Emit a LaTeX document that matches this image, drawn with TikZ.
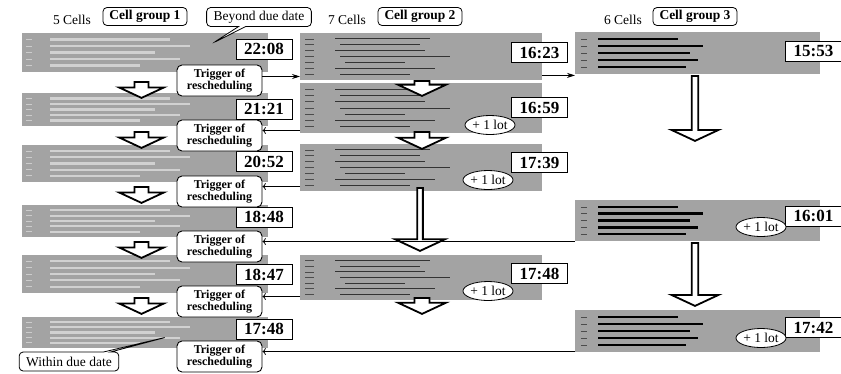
\documentclass[tikz,border=0pt]{standalone}
\usepackage{fontspec}
\setmainfont{Liberation Serif}
\usetikzlibrary{arrows.meta, shapes.geometric, shapes.arrows, shapes.callouts}

\tikzset{
  panel/.style={fill=black!36, inner sep=0, anchor=north west},
  timebox/.style={draw, fill=white, line width=0.9pt, minimum width=56, minimum height=20,
    inner sep=0, font=\fontsize{17}{17}\selectfont\bfseries},
  trigger/.style={draw, fill=white, rounded corners=5pt, line width=0.9pt, minimum width=85,
    minimum height=31, inner sep=0, align=center, font=\fontsize{12}{12.5}\selectfont\bfseries},
  groupbox/.style={draw, rounded corners=4pt, line width=0.8pt, minimum width=84,
    minimum height=18, inner sep=0, font=\fontsize{13.5}{14}\selectfont\bfseries},
  cellcount/.style={font=\fontsize{13.5}{14}\selectfont},
  lot/.style={ellipse, draw, fill=white, line width=0.8pt, minimum width=50, minimum height=19,
    inner sep=0, font=\fontsize{13.5}{13.5}\selectfont},
  note/.style={rectangle callout, draw, fill=white, rounded corners=4pt, line width=0.8pt,
    minimum height=19, inner xsep=7pt, inner ysep=0, font=\fontsize{13.5}{14}\selectfont},
  hollow/.style={single arrow, draw, fill=white, line width=1.8pt, shape border rotate=270,
    single arrow tip angle=130, inner sep=0, anchor=tail},
  link/.style={line width=0.8pt, -{Stealth[length=8pt, width=5pt]}}
}

\begin{document}
\begin{tikzpicture}[x=1pt, y=-1pt]
  \useasboundingbox (0,0) rectangle (841,373);

  % schedule screenshots
  \node[panel, minimum width=246, minimum height=39] (p11) at (22,33) {};
  \node[panel, minimum width=246, minimum height=33] (p12) at (22,93) {};
  \node[panel, minimum width=246, minimum height=37] (p13) at (22,145) {};
  \node[panel, minimum width=246, minimum height=32] (p14) at (22,205) {};
  \node[panel, minimum width=246, minimum height=38] (p15) at (22,255) {};
  \node[panel, minimum width=246, minimum height=31] (p16) at (22,317) {};

  \node[panel, minimum width=242, minimum height=47] (p21) at (300,33) {};
  \node[panel, minimum width=242, minimum height=50] (p22) at (300,83) {};
  \node[panel, minimum width=242, minimum height=47] (p23) at (300,144) {};
  \node[panel, minimum width=242, minimum height=45] (p25) at (300,255) {};

  \node[panel, minimum width=245, minimum height=42] (p31) at (575,32) {};
  \node[panel, minimum width=245, minimum height=41] (p34) at (575,200) {};
  \node[panel, minimum width=245, minimum height=42] (p36) at (575,310) {};

  % the rows inside the screenshots
  \foreach \t/\h in {33/39,93/33,145/37,205/32,255/38,317/31} {
    \foreach \k/\l in {1/120,2/140,3/105,4/130,5/90} {
      \draw[white, line width=2.2pt, opacity=0.5] (50,{\t+\h*\k/6}) -- ++(\l,0);
      \draw[white!80!black, line width=0.8pt] (26,{\t+\h*\k/6}) -- ++(6,0);
    }
  }
  \foreach \t/\h in {33/47,83/50,144/47,255/45} {
    \foreach \k/\a/\l in {1/335/95,2/340/80,3/335/90,4/340/110,5/345/60,6/335/100,7/340/70} {
      \draw[black!80, line width=0.9pt] (\a,{\t+\h*\k/8}) -- ++(\l,0);
      \draw[black!70, line width=0.6pt] (305,{\t+\h*\k/8}) -- ++(9,0);
    }
  }
  \foreach \t/\h in {32/42,200/41,310/42} {
    \foreach \k/\l in {1/80,2/105,3/92,4/100,5/88} {
      \draw[black, line width=2.6pt] (598,{\t+\h*\k/6}) -- ++(\l,0);
      \draw[black!70, line width=0.6pt] (581,{\t+\h*\k/6}) -- ++(6,0);
    }
  }

  % headings
  \node[cellcount] (n1) at (72,20) {5 Cells};
  \node[groupbox] (g1) at (145,16.5) {Cell group 1};
  \node[cellcount] (n2) at (347,20) {7 Cells};
  \node[groupbox] (g2) at (420,16.5) {Cell group 2};
  \node[cellcount] (n3) at (623,20) {6 Cells};
  \node[groupbox] (g3) at (695,16.5) {Cell group 3};

  \node[note, callout absolute pointer={(213,43)}] (late) at (259,17) {Beyond due date};
  \node[note, callout absolute pointer={(167,337)}] (ok) at (69,361.5) {Within due date};

  % moves between the schedules
  \foreach \y in {81,131,186,241,297}
    \node[hollow, single arrow head extend=2pt, minimum width=45, minimum height=16] at (141.5,\y) {};
  \node[hollow, single arrow head extend=2pt, minimum width=48, minimum height=15] (a21) at (422,80) {};
  \node[hollow, single arrow head extend=2pt, minimum width=48, minimum height=17] (a22) at (422,131) {};
  \node[hollow, single arrow head extend=7pt, minimum width=50, minimum height=63] (a23) at (420,187) {};
  \node[hollow, single arrow head extend=2pt, minimum width=48, minimum height=16] (a25) at (422,297) {};
  \node[hollow, single arrow head extend=5.5pt, minimum width=47, minimum height=65] (a31) at (695,75) {};
  \node[hollow, single arrow head extend=5.5pt, minimum width=47, minimum height=63] (a34) at (695,242) {};

  % makespans
  \node[timebox] (t11) at (264,49) {22:08};
  \node[timebox] (t12) at (264,109) {21:21};
  \node[timebox] (t13) at (264,161.5) {20:52};
  \node[timebox] (t14) at (264,217) {18:48};
  \node[timebox] (t15) at (264,274.5) {18:47};
  \node[timebox] (t16) at (264,329) {17:48};
  \node[timebox] (t21) at (539.5,52.5) {16:23};
  \node[timebox] (t22) at (539.5,107.5) {16:59};
  \node[timebox] (t23) at (539.5,162.5) {17:39};
  \node[timebox] (t25) at (539.5,273.5) {17:48};
  \node[timebox] (t31) at (813.5,51) {15:53};
  \node[timebox] (t34) at (813.5,216) {16:01};
  \node[timebox] (t36) at (813.5,327.5) {17:42};

  \node[lot] (l22) at (490,125) {+ 1 lot};
  \node[lot] (l23) at (488,180) {+ 1 lot};
  \node[lot] (l25) at (488,291) {+ 1 lot};
  \node[lot] (l34) at (761,227) {+ 1 lot};
  \node[lot] (l36) at (761,338) {+ 1 lot};

  % rescheduling triggers
  \node[trigger] (trg1) at (219.5,80.5) {Trigger of\\rescheduling};
  \node[trigger] (trg2) at (219.5,135.5) {Trigger of\\rescheduling};
  \node[trigger] (trg3) at (219.5,191.5) {Trigger of\\rescheduling};
  \node[trigger] (trg4) at (219.5,246.5) {Trigger of\\rescheduling};
  \node[trigger] (trg5) at (219.5,301.5) {Trigger of\\rescheduling};
  \node[trigger] (trg6) at (219.5,356.5) {Trigger of\\rescheduling};

  \draw[link] ([yshift=4pt]trg1.east) coordinate (c1) -- (c1 -| p21.west);
  \draw[link] ([yshift=5pt]p21.south east) coordinate (c0) -- (c0 -| p31.west);
  \foreach \n/\p in {2/p22,3/p23,4/p34,5/p25,6/p36}
    \draw[link, <-] ([yshift=5pt]trg\n.east) coordinate (c\n) -- (c\n -| \p.west);
\end{tikzpicture}
\end{document}
